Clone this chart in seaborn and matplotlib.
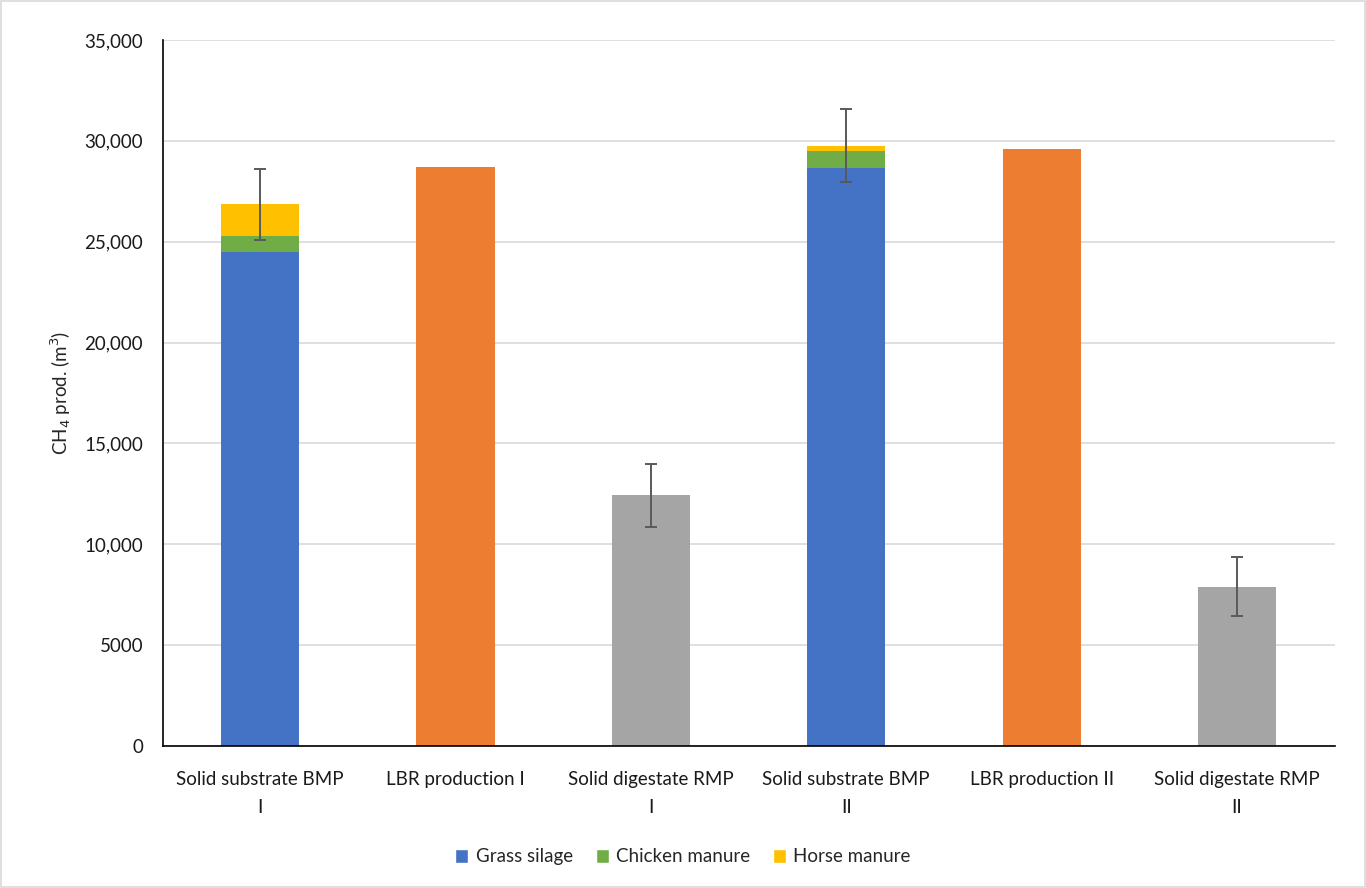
import matplotlib
matplotlib.use("Agg")
from matplotlib import pyplot as plt
from matplotlib.patches import Patch, Rectangle
from matplotlib.ticker import FuncFormatter
import pandas as pd
import seaborn as sns

# Data
categories = [
    "Solid substrate BMP\nI",
    "LBR production I",
    "Solid digestate RMP\nI",
    "Solid substrate BMP\nII",
    "LBR production II",
    "Solid digestate RMP\nII",
]
grass_silage = [24500, 0, 0, 28650, 0, 0]
chicken_manure = [780, 0, 0, 850, 0, 0]
horse_manure = [1570, 0, 0, 250, 0, 0]
lbr_production = [0, 28680, 0, 0, 29580, 0]
solid_digestate = [0, 0, 12420, 0, 0, 7900]
error = [1760, 0, 1550, 1810, 0, 1450]

colors = {
    "Grass silage": "#4472C4",
    "Chicken manure": "#70AD47",
    "Horse manure": "#FFC000",
    "LBR": "#ED7D31",
    "Digestate": "#A5A5A5",
}

df = pd.DataFrame({
    "category": categories,
    "grass": grass_silage,
    "chicken": chicken_manure,
    "horse": horse_manure,
    "lbr": lbr_production,
    "digestate": solid_digestate,
    "err": error,
})
df["base"] = df["grass"] + df["lbr"] + df["digestate"]
df["with_chicken"] = df["grass"] + df["chicken"]
df["total"] = df["grass"] + df["chicken"] + df["horse"]
df["top"] = df[["total", "lbr", "digestate"]].max(axis=1)

sns.set_theme(style="white")
plt.rcParams["font.family"] = ["Lato", "DejaVu Sans"]

fig = plt.figure(figsize=(13.66, 8.88), dpi=100)
ax = fig.add_axes([0.119, 0.16, 0.858, 0.795])

# base colour per category
base_palette = {}
for c, g, l in zip(categories, grass_silage, lbr_production):
    if g > 0:
        base_palette[c] = colors["Grass silage"]
    elif l > 0:
        base_palette[c] = colors["LBR"]
    else:
        base_palette[c] = colors["Digestate"]

# Stacked bars drawn as overlapping cumulative layers
sns.barplot(data=df, x="category", y="total", color=colors["Horse manure"],
            width=0.4, saturation=1, ax=ax, zorder=2, edgecolor="none")
sns.barplot(data=df, x="category", y="with_chicken", color=colors["Chicken manure"],
            width=0.4, saturation=1, ax=ax, zorder=2, edgecolor="none")
sns.barplot(data=df, x="category", y="base", hue="category", palette=base_palette,
            width=0.4, saturation=1, ax=ax, zorder=2, edgecolor="none", legend=False)

# Error bars
mask = df["err"] > 0
xpos = [i for i, m in enumerate(mask) if m]
ax.errorbar(xpos, df.loc[mask, "top"], yerr=df.loc[mask, "err"], fmt="none",
            ecolor="#595959", elinewidth=1.4, capsize=4.5, capthick=1.4, zorder=3)

ax.set_ylim(0, 35000)
ax.set_yticks(range(0, 35001, 5000))
ax.yaxis.set_major_formatter(FuncFormatter(
    lambda v, p: f"{v:,.0f}" if v >= 10000 else f"{v:.0f}"))
ax.grid(axis="y", color="#D9D9D9", linewidth=1.2, zorder=0)
ax.set_axisbelow(True)
ax.set_xlim(-0.5, 5.5)

for s in ["top", "right"]:
    ax.spines[s].set_visible(False)
ax.spines["left"].set_color("black")
ax.spines["bottom"].set_color("black")
ax.spines["left"].set_linewidth(1.2)
ax.spines["bottom"].set_linewidth(1.2)

ax.tick_params(axis="both", length=0, labelsize=13.5, colors="#1a1a1a")
ax.tick_params(axis="y", pad=14)
ax.tick_params(axis="x", pad=18)
ax.set_xlabel("")
ax.set_ylabel("CH$_4$ prod. (m$^3$)", fontsize=13.5, labelpad=8)
for lbl in ax.get_xticklabels():
    lbl.set_linespacing(1.8)

handles = [Patch(facecolor=colors[k]) for k in ["Grass silage", "Chicken manure", "Horse manure"]]
fig.legend(handles, ["Grass silage", "Chicken manure", "Horse manure"],
           loc="center", bbox_to_anchor=(0.5, 0.035), ncol=3, frameon=False,
           fontsize=13.5, handlelength=0.7, handleheight=0.8, handletextpad=0.4,
           columnspacing=1.2)

# light chart border
fig.patches.append(Rectangle((0.001, 0.001), 0.998, 0.998, transform=fig.transFigure,
                             fill=False, edgecolor="#D9D9D9", linewidth=1.2))

plt.savefig("out.png", dpi=100)
